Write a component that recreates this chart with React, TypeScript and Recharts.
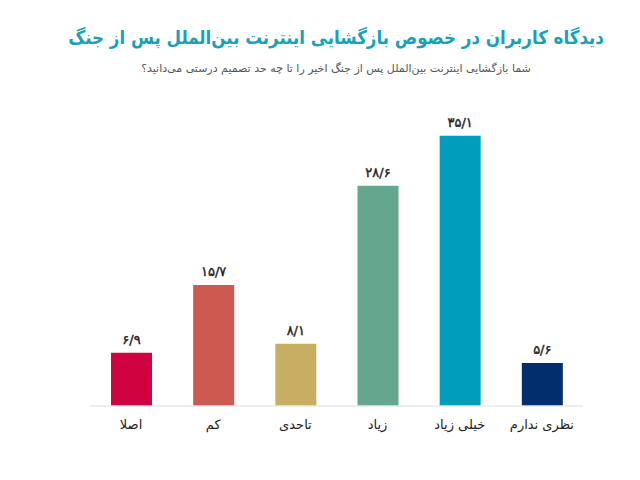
import { BarChart, Bar, XAxis, YAxis, Cell, LabelList } from "recharts";

const categories = ["اصلا", "کم", "تاحدی", "زیاد", "خیلی زیاد", "نظری ندارم"];
const shares = [6.9, 15.7, 8.1, 28.6, 35.1, 5.6];

const barColors = ["#d0023f", "#cd5a50", "#c8ae62", "#65a68e", "#009ebd", "#022e6e"];

const data = categories.map((name, i) => ({ name, value: shares[i] }));

const faDigits = "۰۱۲۳۴۵۶۷۸۹";
const toFa = (v: number) =>
  v
    .toFixed(1)
    .replace(/\d/g, (d) => faDigits[Number(d)])
    .replace(".", "/");

const font = "'DejaVu Sans', sans-serif";

const CategoryTick = (props: any) => {
  const { x, y, payload } = props;
  return (
    <text
      x={x}
      y={y + 15}
      textAnchor="middle"
      fill="#222"
      fontSize={13}
      fontFamily={font}
      direction="rtl"
    >
      {payload.value}
    </text>
  );
};

const App = () => {
  return (
    <div
      style={{
        position: "absolute",
        left: 0,
        top: 0,
        width: 640,
        height: 480,
        background: "#fff",
        fontFamily: font,
      }}
    >
      <div
        style={{
          position: "absolute",
          top: 24,
          left: 0,
          width: 672,
          textAlign: "center",
          direction: "rtl",
          whiteSpace: "nowrap",
          color: "#16a2b9",
          fontWeight: 700,
          fontSize: 17,
          lineHeight: "26px",
          transform: "scale(0.98, 1.12)",
          transformOrigin: "336px 13px",
        }}
      >
        دیدگاه کاربران در خصوص بازگشایی اینترنت بین‌الملل پس از جنگ
      </div>
      <div
        style={{
          position: "absolute",
          top: 61,
          left: 0,
          width: 672,
          textAlign: "center",
          direction: "rtl",
          whiteSpace: "nowrap",
          color: "#555",
          fontSize: 11,
          lineHeight: "16px",
        }}
      >
        شما بازگشایی اینترنت بین‌الملل پس از جنگ اخیر را تا چه حد تصمیم درستی می‌دانید؟
      </div>
      <BarChart
        width={640}
        height={480}
        data={data}
        margin={{ top: 98, right: 57, bottom: 44, left: 90 }}
        style={{ position: "absolute", left: 0, top: 0 }}
      >
        <XAxis
          dataKey="name"
          height={30}
          axisLine={{ stroke: "#e8e8e8", strokeWidth: 1.5 }}
          tickLine={false}
          interval={0}
          tick={<CategoryTick />}
        />
        <YAxis hide domain={[0, 40]} />
        <Bar dataKey="value" barSize={41} isAnimationActive={false}>
          {data.map((d, i) => (
            <Cell key={d.name} fill={barColors[i]} />
          ))}
          <LabelList
            dataKey="value"
            position="top"
            offset={9}
            formatter={(v: any) => toFa(Number(v))}
            fill="#222"
            stroke="#222"
            strokeWidth={0.4}
            fontSize={13}
            fontWeight={400}
            fontFamily={font}
          />
        </Bar>
      </BarChart>
    </div>
  );
};

export default App;
